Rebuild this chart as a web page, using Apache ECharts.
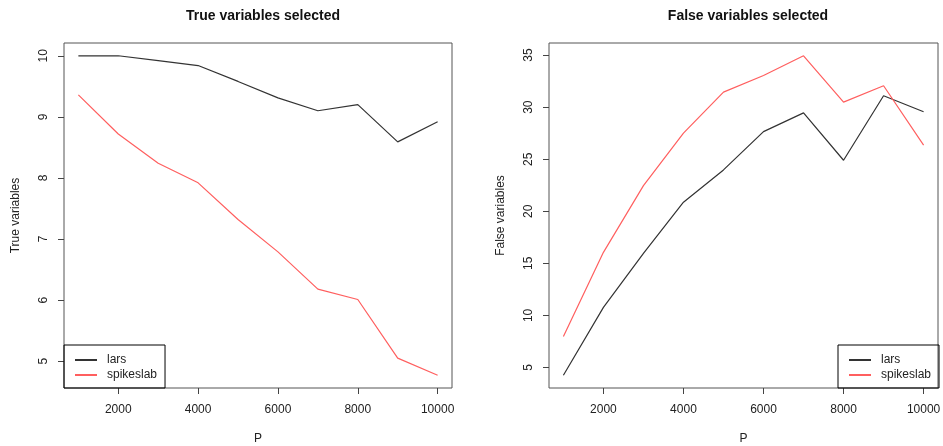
<!DOCTYPE html>
<html><head><meta charset="utf-8">
<script src="https://cdn.jsdelivr.net/npm/echarts@6/dist/echarts.min.js"></script>
<style>html,body{margin:0;padding:0;background:#fff}#c{width:943px;height:446px}</style>
</head><body><div id="c"></div>
<script>
const P = [1000, 2000, 3000, 4000, 5000, 6000, 7000, 8000, 9000, 10000];
const trueLars = [10, 10, 9.92, 9.84, 9.58, 9.31, 9.10, 9.20, 8.59, 8.92];
const trueSpike = [9.36, 8.72, 8.24, 7.92, 7.32, 6.79, 6.18, 6.01, 5.05, 4.77];
const falseLars = [4.26, 10.77, 15.96, 20.87, 23.97, 27.65, 29.45, 24.9, 31.09, 29.55];
const falseSpike = [7.98, 16.06, 22.46, 27.5, 31.44, 33.04, 34.93, 30.48, 32.05, 26.35];
const xTicks = [2000, 4000, 6000, 8000, 10000];
const yTicksTrue = [5, 6, 7, 8, 9, 10];
const yTicksFalse = [5, 10, 15, 20, 25, 30, 35];
const seriesNames = ['lars', 'spikeslab'];
const titles = ['True variables selected', 'False variables selected'];
const yNames = ['True variables', 'False variables'];

function rRange(arrs) {
  const all = [].concat(...arrs);
  const lo = Math.min(...all), hi = Math.max(...all);
  const d = (hi - lo) * 0.04;
  return [lo - d, hi + d];
}
const xr = rRange([P]);
const yrT = rRange([trueLars, trueSpike]);
const yrF = rRange([falseLars, falseSpike]);

const FONT = 'Liberation Sans, Arial, sans-serif';
const lblColor = '#222';
const colors = ['#333333', '#ff5f5f'];

function xAxis(i) {
  return {
    type: 'value', gridIndex: i, min: xr[0], max: xr[1],
    name: 'P', nameLocation: 'middle', nameGap: 45,
    nameTextStyle: {fontFamily: FONT, fontSize: 12, color: lblColor},
    axisLine: {show: false},
    splitLine: {show: false},
    axisTick: {show: true, inside: false, length: 6, customValues: xTicks, lineStyle: {color: '#444'}},
    axisLabel: {customValues: xTicks, margin: 16, formatter: v => String(v), fontFamily: FONT, fontSize: 12, color: lblColor}
  };
}
function yAxis(i, yr, ticks) {
  return {
    type: 'value', gridIndex: i, min: yr[0], max: yr[1],
    name: yNames[i], nameLocation: 'middle', nameGap: 42,
    nameTextStyle: {fontFamily: FONT, fontSize: 12, color: lblColor},
    axisLine: {show: false},
    splitLine: {show: false},
    axisTick: {show: true, inside: false, length: 6, customValues: ticks, lineStyle: {color: '#444'}},
    axisLabel: {customValues: ticks, rotate: 90, margin: 14, fontFamily: FONT, fontSize: 12, color: lblColor}
  };
}
function ser(name, i, data, c) {
  return {
    name: name, type: 'line', xAxisIndex: i, yAxisIndex: i,
    data: P.map((p, k) => [p, data[k]]),
    symbol: 'none', lineStyle: {color: c, width: 1.2}, itemStyle: {color: c},
    silent: true, animation: false
  };
}
function legend(pos) {
  return Object.assign({
    data: seriesNames, orient: 'vertical', top: 345,
    itemWidth: 22, itemHeight: 14, itemGap: 3,
    padding: [9, 8, 7, 10],
    borderColor: '#000', borderWidth: 1, borderRadius: 0,
    itemStyle: {opacity: 0},
    textStyle: {fontFamily: FONT, fontSize: 12, color: lblColor, padding: [0, 0, 0, 5]},
    selectedMode: false
  }, pos);
}

const chart = echarts.init(document.getElementById('c'), null, {renderer: 'canvas'});
chart.setOption({
  animation: false,
  backgroundColor: '#fff',
  title: [
    {text: titles[0], left: 258, top: 4, textAlign: 'center', textStyle: {fontFamily: FONT, fontSize: 14, fontWeight: 'bold', color: '#111'}},
    {text: titles[1], left: 743, top: 4, textAlign: 'center', textStyle: {fontFamily: FONT, fontSize: 14, fontWeight: 'bold', color: '#111'}}
  ],
  grid: [
    {left: 64, right: 491, top: 43, bottom: 58, outerBoundsMode: 'none', containLabel: false, show: true, borderColor: '#555', borderWidth: 1, backgroundColor: 'transparent'},
    {left: 549, right: 5, top: 43, bottom: 58, outerBoundsMode: 'none', containLabel: false, show: true, borderColor: '#555', borderWidth: 1, backgroundColor: 'transparent'}
  ],
  xAxis: [xAxis(0), xAxis(1)],
  yAxis: [yAxis(0, yrT, yTicksTrue), yAxis(1, yrF, yTicksFalse)],
  legend: [legend({left: 64}), legend({left: 838})],
  series: [
    ser(seriesNames[0], 0, trueLars, colors[0]),
    ser(seriesNames[1], 0, trueSpike, colors[1]),
    ser(seriesNames[0], 1, falseLars, colors[0]),
    ser(seriesNames[1], 1, falseSpike, colors[1])
  ]
});
</script></body></html>
